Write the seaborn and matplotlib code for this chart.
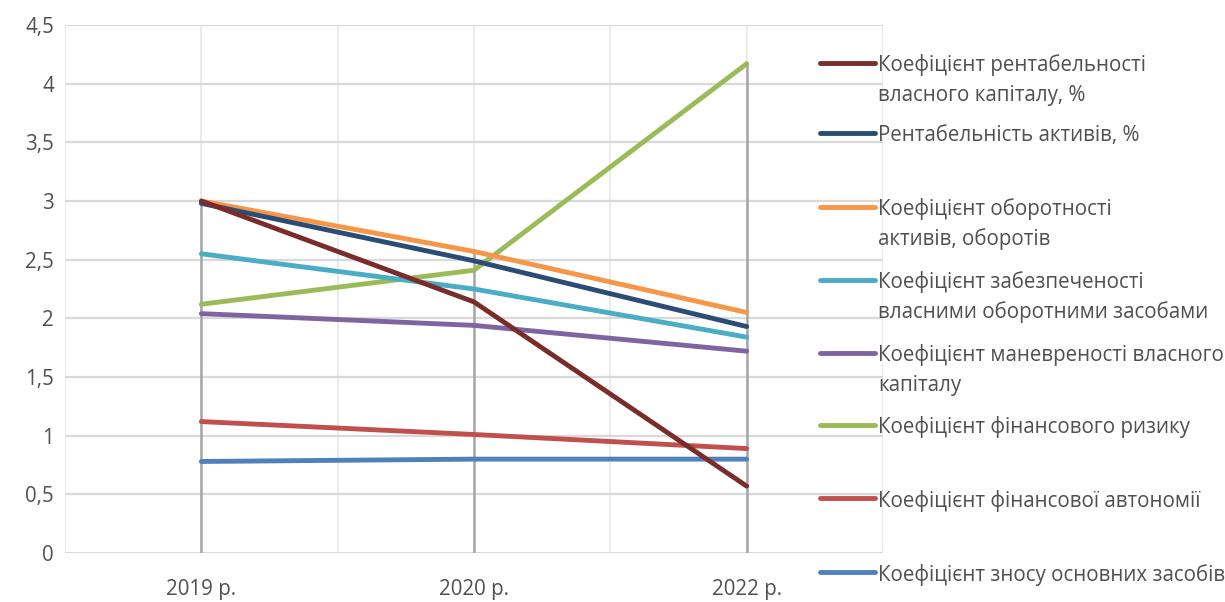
import matplotlib
matplotlib.use("Agg")
import matplotlib.pyplot as plt
from matplotlib.lines import Line2D
import seaborn as sns
import pandas as pd

# ---- data ----
years = ["2019 р.", "2020 р.", "2022 р."]
series_names = [
    "Коефіцієнт рентабельності\nвласного капіталу, %",
    "Рентабельність активів, %",
    "Коефіцієнт оборотності\nактивів, оборотів",
    "Коефіцієнт забезпеченості\nвласними оборотними засобами",
    "Коефіцієнт маневреності власного\nкапіталу",
    "Коефіцієнт фінансового ризику",
    "Коефіцієнт фінансової автономії",
    "Коефіцієнт зносу основних засобів",
]
roe = [3.00, 2.14, 0.57]
roa = [2.98, 2.49, 1.93]
turnover = [3.00, 2.57, 2.05]
own_wc = [2.55, 2.25, 1.84]
maneuver = [2.04, 1.94, 1.72]
fin_risk = [2.12, 2.41, 4.17]
autonomy = [1.12, 1.01, 0.89]
depreciation = [0.78, 0.80, 0.80]
yticks = [0, 0.5, 1, 1.5, 2, 2.5, 3, 3.5, 4, 4.5]
ytick_labels = ["0", "0,5", "1", "1,5", "2", "2,5", "3", "3,5", "4", "4,5"]

values = [roe, roa, turnover, own_wc, maneuver, fin_risk, autonomy, depreciation]
colors = ["#7A2C2A", "#2B4C74", "#F79646", "#4BACC6", "#8064A2",
          "#9BBB59", "#C0504D", "#4F81BD"]

rows = []
for name, vals in zip(series_names, values):
    for y, v in zip(years, vals):
        rows.append({"year": y, "value": v, "series": name})
df = pd.DataFrame(rows)

sns.set_theme(style="white")
FONT = ["Open Sans", "DejaVu Sans"]
plt.rcParams["font.family"] = FONT
TXT = "#505050"

W, H = 1225, 602
fig = plt.figure(figsize=(W / 100, H / 100), dpi=100)
ax = fig.add_axes([65 / W, 1 - 553 / H, (883 - 65) / W, (553 - 25) / H])

# fit font size so legend text width matches reference (~310 px)
renderer = fig.canvas.get_renderer()
t = fig.text(0, 0, "Коефіцієнт фінансового ризику", fontsize=12)
w = t.get_window_extent(renderer).width
t.remove()
fs = 12 * 310 / w

# gridlines
ax.set_ylim(0, 4.5)
ax.set_xlim(-0.5, 2.5)
for yv in yticks[1:]:
    ax.axhline(yv, color="#D9D9D9", lw=1.6, zorder=0.5)
for xv in [-0.5, 0, 0.5, 1, 1.5, 2, 2.5]:
    ax.axvline(xv, color="#EBEBEB", lw=1.4, zorder=0.4)
ax.axhline(0, color="#D9D9D9", lw=2.2, zorder=0.6)

# drop lines from max value to axis
maxvals = [max(v[i] for v in values) for i in range(len(years))]
ax.vlines(range(len(years)), 0, maxvals, color="#A6A6A6", lw=1.8, zorder=1)

# series (reverse order so first series ends on top)
order = series_names[::-1]
pal = dict(zip(series_names, colors))
sns.lineplot(data=df, x="year", y="value", hue="series", hue_order=order,
             palette=pal, linewidth=3.5, legend=False, ax=ax, sort=False,
             zorder=3)
for ln in ax.get_lines():
    ln.set_solid_capstyle("round")

ax.set_xticks(range(len(years)))
ax.set_xticklabels(years)
ax.set_yticks(yticks)
ax.set_yticklabels(ytick_labels)
ax.tick_params(axis="x", length=0, pad=19, labelsize=fs, labelcolor=TXT)
ax.tick_params(axis="y", length=0, pad=8, labelsize=fs, labelcolor=TXT)
ax.set_xlabel("")
ax.set_ylabel("")
for s in ax.spines.values():
    s.set_visible(False)

# legend drawn manually on the right
leg_y = [63, 133, 207, 280, 353, 425, 498, 572]
for name, col, yp in zip(series_names, colors, leg_y):
    fig.add_artist(Line2D([820 / W, 875 / W], [1 - yp / H, 1 - yp / H],
                          transform=fig.transFigure, color=col, lw=3.5,
                          solid_capstyle="round"))
    for k, part in enumerate(name.split("\n")):
        fig.text(878 / W, 1 - (yp + 30 * k) / H, part, fontsize=fs,
                 color=TXT, va="center_baseline", ha="left")

fig.savefig("out.png", dpi=100)
